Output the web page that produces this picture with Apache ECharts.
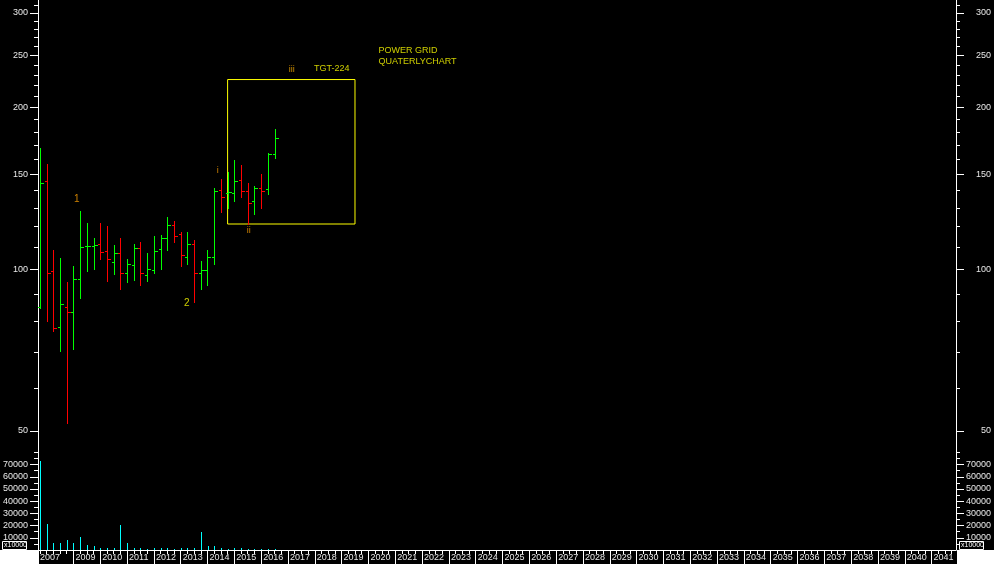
<!DOCTYPE html>
<html><head><meta charset="utf-8">
<script src="https://cdn.jsdelivr.net/npm/echarts@6/dist/echarts.min.js"></script>
<style>html,body{margin:0;padding:0;background:#000;}#c{width:994px;height:564px;}</style>
</head><body><div id="c"></div>
<script>
// ---- data ----
const quarters = ['2007Q4','2008Q1','2008Q2','2008Q3','2008Q4','2009Q1','2009Q2','2009Q3','2009Q4',
  '2010Q1','2010Q2','2010Q3','2010Q4','2011Q1','2011Q2','2011Q3','2011Q4','2012Q1','2012Q2','2012Q3','2012Q4',
  '2013Q1','2013Q2','2013Q3','2013Q4','2014Q1','2014Q2','2014Q3','2014Q4','2015Q1','2015Q2','2015Q3','2015Q4',
  '2016Q1','2016Q2','2016Q3'];
const open  = [85.2,145.8,99.1,78.0,85.0,83.2,95.8,110.4,110.5,111.4,108.0,103.0,107.1,98.3,101.7,109.4,97.5,99.6,108.9,114.2,120.8,116.2,105.3,111.3,98.3,99.6,105.3,140.3,138.5,138.5,146.4,139.7,133.8,141.5,140.9,163.9];
const high  = [168.2,157.0,108.6,105.0,94.7,101.4,128.4,121.9,114.5,121.9,120.4,111.0,114.4,104.4,111.4,112.4,107.2,115.3,115.8,125.1,123.0,117.3,117.3,113.4,103.6,108.6,141.7,147.3,151.9,159.8,156.4,144.8,142.7,150.4,164.4,182.5];
const low   = [84.8,80.2,76.9,70.5,51.8,71.2,88.5,99.4,100.3,104.6,95.2,98.1,92.0,94.8,95.6,93.6,95.2,98.5,100.3,108.8,112.6,101.4,102.2,87.0,92.0,93.6,102.4,128.0,130.2,134.2,136.5,121.4,126.9,130.3,138.3,161.3];
const close = [144.6,98.3,77.7,86.2,83.2,95.8,109.9,110.6,111.0,107.6,104.4,107.1,98.3,102.2,109.4,98.3,100.0,108.0,114.2,120.8,115.2,106.2,111.3,98.3,99.6,105.3,139.7,136.1,139.1,145.8,139.7,132.7,141.5,139.7,163.9,175.3];
const volume = [73000,21000,6000,6000,8000,5500,10500,4500,3500,2000,1500,2000,20500,5500,2000,2000,1000,1500,1500,1500,800,1500,1500,1500,14500,3000,3000,2000,1200,2000,2000,500,500,1200,1200,1200];

const priceTicks = [50,100,150,200,250,300];
const priceMinorTicks = [60,70,80,90,110,120,130,140,160,170,180,190,210,220,230,240,260,270,280,290,310];
const volumeTicks = [10000,20000,30000,40000,50000,60000,70000];
const volumeMinorTicks = [5000,15000,25000,35000,45000,55000,65000,75000,80000];
const yearLabels = [2007,2009,2010,2011,2012,2013,2014,2015,2016,2017,2018,2019,2020,2021,2022,2023,2024,2025,2026,2027,2028,2029,2030,2031,2032,2033,2034,2035,2036,2037,2038,2039,2040,2041];

// annotations: [text, time, price]
const waveText  = ['1','2','i','ii','iii','TGT-224'];
const waveTime  = [2009.13,2013.23,2014.38,2015.54,2017.14,2018.63];
const wavePrice = [135.2,86.5,152.4,118.3,235,236];
const titleText = ['POWER GRID','QUATERLYCHART'];
const titleTime = [2020.38,2020.38];
const titlePrice = [254.9,243.2];
const targetBox = {from:'2014Q4', to:'2019Q3', top:225.5, bottom:121.4};

// ---- helpers ----
const T0 = 2007.68, T1 = 2041.91;
const qToT = q => +q.slice(0,4) + (+q.slice(5) - 1) / 4;
const times = quarters.map(qToT);
const ohlc = times.map((t,i) => [t, open[i], high[i], low[i], close[i]]);
const vol = times.map((t,i) => [t, volume[i]]);
const FONT = 'Liberation Sans, Arial, sans-serif';
const TXT = '#e8e8e8';
const yearTickVals = [T0].concat(yearLabels.slice(1));
const quarterTicks = [2007.75];
for (let y = 2008; y <= 2041; y++) for (let q = 0; q < 4; q++) quarterTicks.push(y + q/4);

const waveColors = ['#FFA000','#FFFF00','#FFA000','#FFA000','#FFB000','#FFFF00'];

function ohlcItem(params, api) {
  const t = api.value(0), o = api.value(1), h = api.value(2), l = api.value(3), c = api.value(4);
  const po = api.coord([t, o]), pc = api.coord([t, c]), ph = api.coord([t, h]), pl = api.coord([t, l]);
  const x = Math.round(po[0]);
  const col = c >= o ? '#00FF00' : '#FF0000';
  const yh = Math.round(ph[1]), yl = Math.round(pl[1]);
  const yo = Math.round(po[1]), yc = Math.round(pc[1]);
  const st = {fill:col};
  return {type:'group', children:[
    {type:'rect', shape:{x:x, y:yh, width:1, height:Math.max(1, yl - yh + 1)}, style:st},
    {type:'rect', shape:{x:x-2, y:yo, width:2, height:1}, style:st},
    {type:'rect', shape:{x:x+1, y:yc, width:3, height:1}, style:st}
  ]};
}
function volItem(params, api) {
  const p = api.coord([api.value(0), api.value(1)]);
  const b = api.coord([api.value(0), 0]);
  const x = Math.round(p[0]);
  const yt = Math.round(p[1]), yb = Math.round(b[1]);
  return {type:'rect', shape:{x:x, y:yt, width:1, height:Math.max(1, yb - yt)}, style:{fill:'#00FFFF'}};
}

function yAx(grid, pos, kind, opts) {
  const isPrice = kind === 'price';
  const base = isPrice ? {type:'log', logBase:10, min:45.69, max:317.1} : {type:'value', min:0, max:80300};
  return Object.assign(base, {
    gridIndex: grid, position: pos, splitLine:{show:false},
    axisLine:{show: !!opts.line, onZero:false, lineStyle:{color:'#ffffff', width:1}},
    axisTick:{show:true, length: opts.len, customValues: opts.ticks, lineStyle:{color:'#ffffff'}},
    axisLabel: opts.labels ? {show:true, customValues: opts.labels, color:TXT, fontFamily:FONT, fontSize:9,
      align:'right', margin: pos === 'right' ? 35 : 10, formatter: v => String(Math.round(v))} : {show:false},
    minorTick:{show:false}
  });
}

const annData = waveText.map((s,i) => ({value:[waveTime[i], wavePrice[i]],
  label:{formatter:s, color:waveColors[i], align:'center', fontSize: i < 2 ? 10 : 9}}))
  .concat(titleText.map((s,i) => ({value:[titleTime[i], titlePrice[i]],
  label:{formatter:s, color:'#FFFF00', align:'left'}})));

const chart = echarts.init(document.getElementById('c'), null, {renderer:'canvas'});
chart.setOption({
  backgroundColor:'#000000',
  animation:false,
  grid:[
    {left:38, right:37, top:0, height:452},
    {left:38, right:37, top:452, height:98}
  ],
  xAxis:[
    {type:'value', gridIndex:0, min:T0, max:T1, show:false},
    {type:'value', gridIndex:1, min:T0, max:T1, position:'bottom', splitLine:{show:false},
      axisLine:{show:true, onZero:false, lineStyle:{color:'#ffffff'}},
      axisTick:{show:true, length:14, customValues:yearTickVals, lineStyle:{color:'#ffffff'}},
      axisLabel:{show:true, customValues:yearTickVals, color:TXT, fontFamily:FONT, fontSize:9, align:'left',
        verticalAlign:'top', margin:3, padding:[0,0,0,2], formatter: v => String(Math.floor(v + 1e-6))}},
    {type:'value', gridIndex:1, min:T0, max:T1, position:'bottom', splitLine:{show:false},
      axisLine:{show:false}, axisLabel:{show:false},
      axisTick:{show:true, length:4, customValues:quarterTicks, lineStyle:{color:'#ffffff'}}}
  ],
  yAxis:[
    yAx(0,'left','price',{line:true, len:8, ticks:priceTicks, labels:priceTicks}),
    yAx(0,'right','price',{line:true, len:8, ticks:priceTicks, labels:priceTicks}),
    yAx(0,'left','price',{len:4, ticks:priceMinorTicks}),
    yAx(0,'right','price',{len:4, ticks:priceMinorTicks}),
    yAx(1,'left','vol',{line:true, len:8, ticks:volumeTicks, labels:volumeTicks}),
    yAx(1,'right','vol',{line:true, len:8, ticks:volumeTicks, labels:volumeTicks}),
    yAx(1,'left','vol',{len:4, ticks:volumeMinorTicks}),
    yAx(1,'right','vol',{len:4, ticks:volumeMinorTicks})
  ],
  series:[
    {type:'custom', name:'price', xAxisIndex:0, yAxisIndex:0, data:ohlc, renderItem:ohlcItem,
      encode:{x:0, y:[1,2,3,4]}, silent:true},
    {type:'custom', name:'volume', xAxisIndex:1, yAxisIndex:4, data:vol, renderItem:volItem,
      encode:{x:0, y:1}, silent:true},
    {type:'scatter', name:'notes', xAxisIndex:0, yAxisIndex:0, symbolSize:0, silent:true,
      label:{show:true, position:'inside', verticalAlign:'middle', fontFamily:FONT, fontSize:9},
      data:annData,
      markArea:{silent:true, itemStyle:{color:'rgba(0,0,0,0)', borderColor:'#FFFF00', borderWidth:1},
        data:[[{coord:[qToT(targetBox.from), targetBox.top]}, {coord:[qToT(targetBox.to), targetBox.bottom]}]]}}
  ],
  graphic:[
    {type:'rect', shape:{x:0, y:550, width:38, height:14}, style:{fill:'#ffffff'}, silent:true},
    {type:'rect', shape:{x:957, y:550, width:37, height:14}, style:{fill:'#ffffff'}, silent:true},
    {type:'rect', shape:{x:2.5, y:541.5, width:24, height:8}, style:{fill:'#000', stroke:'#ffffff', lineWidth:1}, silent:true},
    {type:'text', x:4, y:542, style:{text:'x10000', fill:'#ffffff', font:'7px Liberation Sans, Arial, sans-serif'}, silent:true},
    {type:'rect', shape:{x:959.5, y:541.5, width:24, height:8}, style:{fill:'#000', stroke:'#ffffff', lineWidth:1}, silent:true},
    {type:'text', x:961, y:542, style:{text:'x10000', fill:'#ffffff', font:'7px Liberation Sans, Arial, sans-serif'}, silent:true}
  ]
});
</script></body></html>
